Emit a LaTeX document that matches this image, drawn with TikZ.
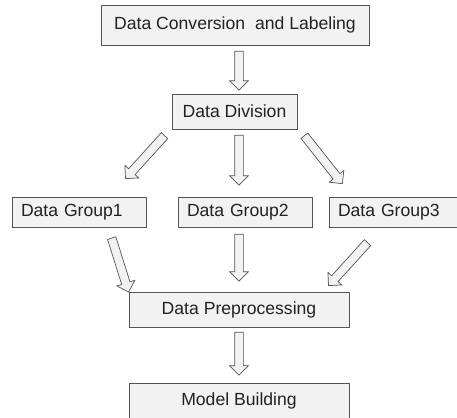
\documentclass[tikz,border=0pt]{standalone}
\usepackage{fontspec}
\setmainfont{Liberation Sans}
\usetikzlibrary{shapes.arrows,calc}
\definecolor{boxfill}{HTML}{F2F2F2}
\definecolor{boxline}{HTML}{555555}
\definecolor{txt}{HTML}{222222}
\tikzset{
  box/.style={draw=boxline, fill=boxfill, line width=0.9pt, font=\fontsize{17.6}{20}\selectfont, text=txt, inner sep=0pt},
  groupbox/.style={box, minimum height=30, inner xsep=9pt, align=left},
  barrow/.style={single arrow, draw=boxline, fill=boxfill, line width=0.7pt, single arrow head extend=5pt, inner xsep=0pt, inner ysep=4pt},
}
\newcommand\blockarrow[2]{\path let \p1=(#1), \p2=(#2), \n1={atan2(\y2-\y1,\x2-\x1)}, \n2={veclen(\x2-\x1,\y2-\y1)} in node[barrow, rotate=\n1, minimum height=\n2] at ($(#1)!0.5!(#2)$) {};}
\begin{document}
\begin{tikzpicture}[x=1pt, y=-1pt]
\useasboundingbox (0,0) rectangle (457,417);
\clip (0,0) rectangle (457,417);
\node[box, minimum width=268, minimum height=40] (conv) at (235,25) {Data Conversion\ \ and Labeling};
\node[box, minimum width=125, minimum height=35] (div) at (234.5,111.5) {Data Division};
\node[groupbox, text width=116] (g1) at (79,212) {Data Group1};
\node[groupbox, text width=116] (g2) at (245,212) {Data Group2};
\node[groupbox, text width=123] (g3) at (399.5,212) {Data Group3};
\node[box, minimum width=220, minimum height=35] (pre) at (239,309.5) {Data Preprocessing};
\node[box, minimum width=220, minimum height=35] (model) at (239,400.5) {Model Building};
% arrow end points
\coordinate (a1s) at (239,49);   \coordinate (a1e) at (239,88);
\coordinate (a2s) at (166,134);  \coordinate (a2e) at (127,177);
\coordinate (a3s) at (239,133);  \coordinate (a3e) at (239,183);
\coordinate (a4s) at (303,134);  \coordinate (a4e) at (341,182);
\coordinate (a5s) at (111,236);  \coordinate (a5e) at (128,290);
\coordinate (a6s) at (239,232);  \coordinate (a6e) at (239,279);
\coordinate (a7s) at (369,241);  \coordinate (a7e) at (330,284);
\coordinate (a8s) at (239,330);  \coordinate (a8e) at (239,373);
\blockarrow{a1s}{a1e}
\blockarrow{a2s}{a2e}
\blockarrow{a3s}{a3e}
\blockarrow{a4s}{a4e}
\blockarrow{a5s}{a5e}
\blockarrow{a6s}{a6e}
\blockarrow{a7s}{a7e}
\blockarrow{a8s}{a8e}
\end{tikzpicture}
\end{document}
